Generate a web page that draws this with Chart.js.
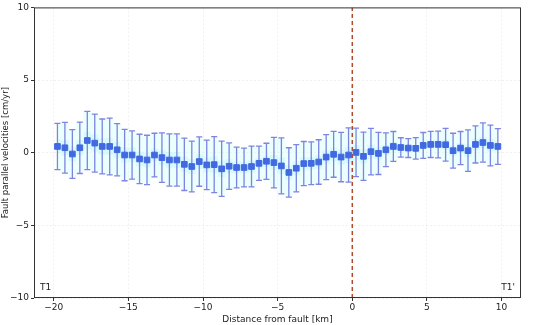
<!DOCTYPE html>
<html>
<head>
<meta charset="utf-8">
<script src="https://cdn.jsdelivr.net/npm/chart.js@4.4.1/dist/chart.umd.min.js"></script>
<style>
html,body{margin:0;padding:0;background:#fff;}
#wrap{width:550px;height:325px;position:relative;}
</style>
</head>
<body>
<div id="wrap"><canvas id="c" width="550" height="325"></canvas></div>
<script>
// Distance from fault [km]
const distances = [-19.75,-19.25,-18.75,-18.25,-17.75,-17.25,-16.75,-16.25,-15.75,-15.25,
  -14.75,-14.25,-13.75,-13.25,-12.75,-12.25,-11.75,-11.25,-10.75,-10.25,
  -9.75,-9.25,-8.75,-8.25,-7.75,-7.25,-6.75,-6.25,-5.75,-5.25,
  -4.75,-4.25,-3.75,-3.25,-2.75,-2.25,-1.75,-1.25,-0.75,-0.25,
  0.25,0.75,1.25,1.75,2.25,2.75,3.25,3.75,4.25,4.75,
  5.25,5.75,6.25,6.75,7.25,7.75,8.25,8.75,9.25,9.75];
// Fault parallel velocities [cm/yr]
const velocities = [0.43,0.34,-0.09,0.34,0.84,0.66,0.43,0.43,0.2,-0.16,
  -0.16,-0.43,-0.5,-0.16,-0.34,-0.5,-0.5,-0.8,-0.95,-0.61,
  -0.84,-0.82,-1.11,-0.93,-1.02,-1.02,-0.95,-0.73,-0.59,-0.68,
  -0.91,-1.36,-1.07,-0.75,-0.73,-0.64,-0.3,-0.11,-0.3,-0.16,
  0.02,-0.25,0.07,-0.05,0.2,0.43,0.36,0.32,0.3,0.5,
  0.57,0.57,0.55,0.14,0.32,0.14,0.57,0.7,0.5,0.43];
// Standard deviation (error bar half-length)
const errors = [1.59,1.75,1.68,1.77,2.0,2.0,1.89,1.95,1.8,1.77,
  1.66,1.7,1.7,1.5,1.7,1.8,1.8,1.8,1.74,1.7,
  1.7,1.93,1.9,1.6,1.4,1.33,1.4,1.18,1.24,1.74,
  1.93,1.7,1.63,1.52,1.47,1.53,1.55,1.58,1.7,1.87,
  1.67,1.66,1.6,1.45,1.16,1.03,0.67,0.65,0.74,0.89,
  0.9,0.92,1.13,1.2,1.14,1.43,1.28,1.35,1.4,1.23];
const xTicks = [-20,-15,-10,-5,0,5,10];
const yTicks = [-10,-5,0,5,10];
const faultX = 0;
const profileStart = "T1";
const profileEnd = "T1'";

const pts = distances.map((d,i)=>({x:d,y:velocities[i]}));
const upper = distances.map((d,i)=>({x:d,y:velocities[i]+errors[i]}));
const lower = distances.map((d,i)=>({x:d,y:velocities[i]-errors[i]}));
const innerUp = distances.map((d,i)=>({x:d,y:velocities[i]+errors[i]*0.3}));
const innerLo = distances.map((d,i)=>({x:d,y:velocities[i]-errors[i]*0.3}));

const fmt = v => (v<0 ? '\u2212'+Math.abs(v) : ''+v);

const errorBars = {
  id:'errorBars',
  beforeDatasetDraw(chart,args){
    if(args.index!==0) return;
    const ctx=chart.ctx, xs=chart.scales.x, ys=chart.scales.y;
    ctx.save();
    ctx.strokeStyle='rgba(100,100,215,0.8)';
    ctx.lineWidth=1.3;
    distances.forEach((d,i)=>{
      const px=xs.getPixelForValue(d);
      const pt=ys.getPixelForValue(velocities[i]+errors[i]);
      const pb=ys.getPixelForValue(velocities[i]-errors[i]);
      ctx.beginPath();
      ctx.moveTo(px,pt);ctx.lineTo(px,pb);
      ctx.moveTo(px-3,pt);ctx.lineTo(px+3,pt);
      ctx.moveTo(px-3,pb);ctx.lineTo(px+3,pb);
      ctx.stroke();
    });
    ctx.restore();
  }
};

const frame = {
  id:'frame',
  afterDraw(chart){
    const ctx=chart.ctx, a=chart.chartArea;
    ctx.save();
    ctx.strokeStyle='#333';
    ctx.lineWidth=1;
    ctx.strokeRect(a.left+0.5,a.top+0.5,a.right-a.left-1,a.bottom-a.top-1);
    ctx.fillStyle='#222';
    ctx.font='9px "DejaVu Sans"';
    ctx.textBaseline='bottom';
    ctx.textAlign='left';
    ctx.fillText(profileStart,a.left+6,a.bottom-6);
    ctx.textAlign='right';
    ctx.fillText(profileEnd,a.right-6,a.bottom-6);
    ctx.restore();
  }
};

new Chart(document.getElementById('c'),{
  type:'scatter',
  data:{datasets:[
    {label:'velocity',data:pts,pointStyle:'rect',pointRadius:4,pointBackgroundColor:'#4169e1',pointBorderColor:'#4169e1',showLine:false,order:0},
    {label:'fault',data:[{x:faultX,y:-10},{x:faultX,y:10}],showLine:true,pointRadius:0,borderColor:'#b04a2a',borderWidth:1.5,borderDash:[4,3],order:1},
    {label:'innerUp',data:innerUp,showLine:true,pointRadius:0,borderWidth:0,borderColor:'rgba(0,0,0,0)',backgroundColor:'rgba(170,240,255,0.3)',fill:'+1',stepped:'middle',order:2},
    {label:'innerLo',data:innerLo,showLine:true,pointRadius:0,borderWidth:0,borderColor:'rgba(0,0,0,0)',order:2,stepped:'middle'},
    {label:'upper',data:upper,showLine:true,pointRadius:0,borderWidth:0,borderColor:'rgba(0,0,0,0)',backgroundColor:'rgba(205,255,255,0.4)',fill:'+1',stepped:'middle',order:3},
    {label:'lower',data:lower,showLine:true,pointRadius:0,borderWidth:0,borderColor:'rgba(0,0,0,0)',order:3,stepped:'middle'}
  ]},
  options:{
    responsive:false,animation:false,
    layout:{padding:{top:5,right:29,left:0,bottom:0}},
    plugins:{legend:{display:false},tooltip:{enabled:false},filler:{propagate:false}},
    scales:{
      x:{type:'linear',min:-21.32,max:11.3,
        afterBuildTicks(s){s.ticks=xTicks.map(v=>({value:v}));},
        afterFit(s){s.height=27;},
        ticks:{callback:fmt,color:'#222',font:{family:'DejaVu Sans',size:9},padding:1,maxRotation:0},
        grid:{color:'rgba(0,0,0,0.06)',tickColor:'#333',tickLength:3},
        border:{display:false,dash:[2,2]},
        title:{display:true,text:'Distance from fault [km]',color:'#222',font:{family:'DejaVu Sans',size:9},padding:{top:0,bottom:0}}
      },
      y:{type:'linear',min:-10,max:10,
        afterBuildTicks(s){s.ticks=yTicks.map(v=>({value:v}));},
        afterFit(s){s.width=34;},
        ticks:{callback:fmt,color:'#222',font:{family:'DejaVu Sans',size:9},padding:2},
        grid:{color:'rgba(0,0,0,0.06)',tickColor:'#333',tickLength:3},
        border:{display:false,dash:[2,2]},
        title:{display:true,text:'Fault parallel velocities [cm/yr]',color:'#222',font:{family:'DejaVu Sans',size:8.5},padding:{top:1,bottom:0}}
      }
    }
  },
  plugins:[errorBars,frame]
});
</script>
</body>
</html>
